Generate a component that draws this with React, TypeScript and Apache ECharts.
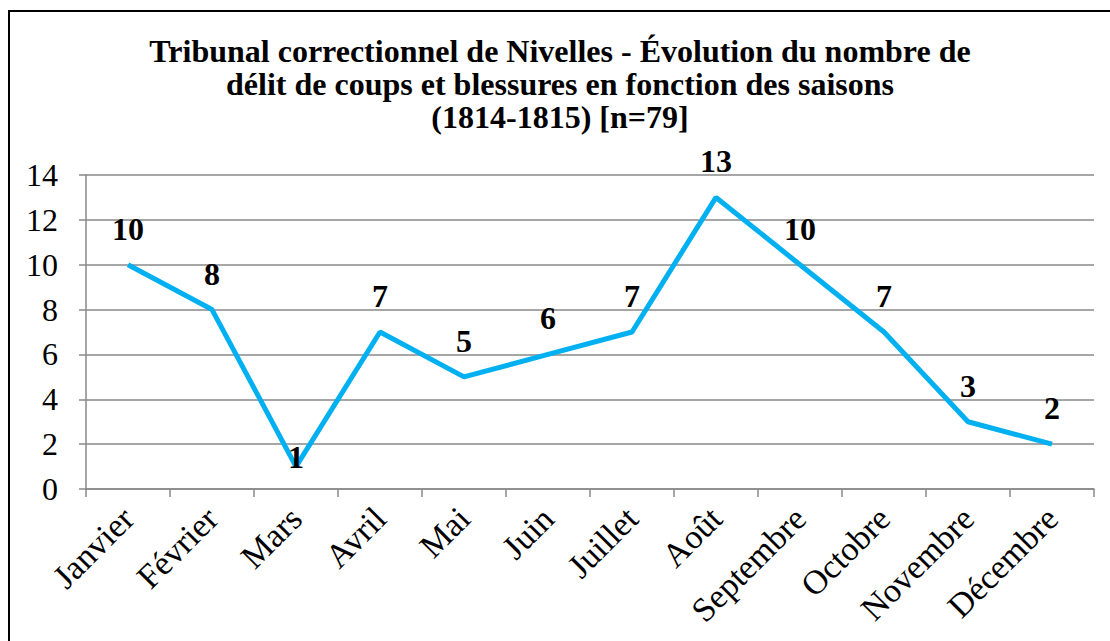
import React, { useEffect, useRef } from "react";
import * as echarts from "echarts";

const titleLines = [
  "Tribunal correctionnel de Nivelles - Évolution du nombre de",
  "délit de coups et blessures en fonction des saisons",
  "(1814-1815) [n=79]",
];
const months = [
  "Janvier", "Février", "Mars", "Avril", "Mai", "Juin",
  "Juillet", "Août", "Septembre", "Octobre", "Novembre", "Décembre",
];
const counts = [10, 8, 1, 7, 5, 6, 7, 13, 10, 7, 3, 2];
const yMin = 0;
const yMax = 14;
const yStep = 2;

const FONT = "Times New Roman, Liberation Serif, DejaVu Serif, serif";

export default function App() {
  const ref = useRef<HTMLDivElement>(null);
  useEffect(() => {
    if (!ref.current) return;
    const chart = echarts.init(ref.current, null, { renderer: "svg" });
    chart.setOption({
      animation: false,
      backgroundColor: "#ffffff",
      textStyle: { fontFamily: FONT },
      title: {
        text: titleLines.join("\n"),
        left: "center",
        top: 22,
        padding: [0, 0, 0, 8],
        textStyle: {
          fontFamily: FONT,
          fontWeight: "bold",
          fontSize: 32,
          lineHeight: 33,
          color: "#000",
        },
      },
      grid: { left: 76, top: 163, width: 1008, height: 314, containLabel: false },
      xAxis: {
        type: "category",
        data: months,
        boundaryGap: true,
        axisLine: { show: true, lineStyle: { color: "#888", width: 1.5 } },
        axisTick: { show: true, length: 8, lineStyle: { color: "#888", width: 1.5 } },
        axisLabel: {
          rotate: 45,
          interval: 0,
          margin: 24,
          padding: [20, 0, 0, 0],
          fontFamily: FONT,
          fontSize: 34,
          color: "#000",
        },
      },
      yAxis: {
        type: "value",
        min: yMin,
        max: yMax,
        interval: yStep,
        axisLine: { show: true, lineStyle: { color: "#888", width: 1.5 } },
        axisTick: { show: true, length: 7, lineStyle: { color: "#888", width: 1.5 } },
        splitLine: { show: true, lineStyle: { color: "#888", width: 1.5 } },
        axisLabel: {
          margin: 28,
          fontFamily: FONT,
          fontSize: 32,
          color: "#000",
        },
      },
      series: [
        {
          type: "line",
          data: counts.map((v, i) =>
            i === 2 ? { value: v, label: { offset: [0, 26] } } : v
          ),
          showSymbol: true,
          symbol: "circle",
          symbolSize: 0,
          lineStyle: { color: "#00B0F0", width: 5 },
          itemStyle: { color: "#00B0F0" },
          label: {
            show: true,
            position: "top",
            distance: 20,
            fontFamily: FONT,
            fontWeight: "bold",
            fontSize: 32,
            color: "#000",
          },
        },
      ],
    });
    return () => chart.dispose();
  }, []);
  return (
    <div
      ref={ref}
      style={{
        position: "absolute",
        left: 8,
        top: 10,
        width: 1100,
        height: 629,
        borderLeft: "2px solid #000",
        borderTop: "2px solid #000",
        background: "#fff",
      }}
    />
  );
}
